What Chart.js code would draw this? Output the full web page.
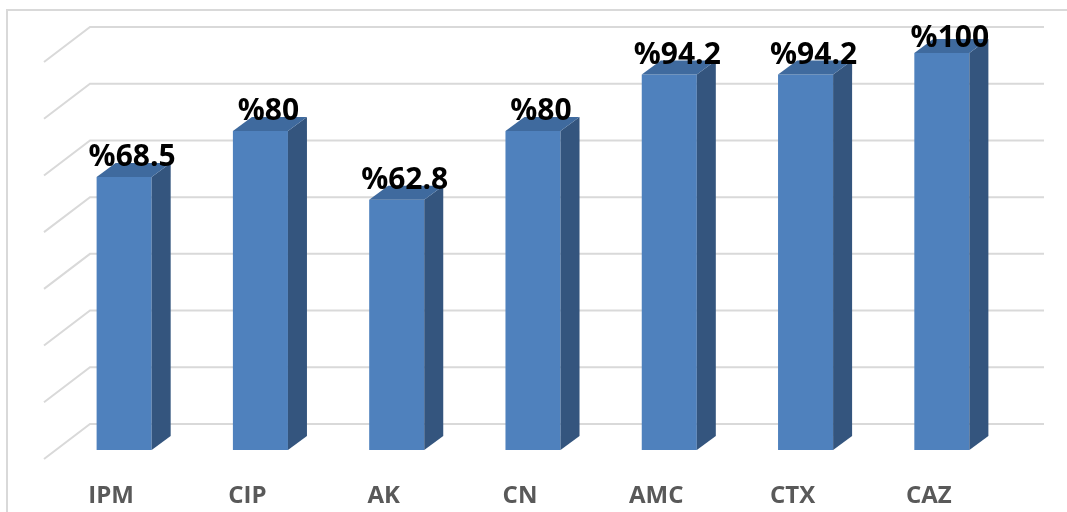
<!DOCTYPE html>
<html>
<head>
<meta charset="utf-8">
<script src="https://cdn.jsdelivr.net/npm/chart.js@4.4.1/dist/chart.umd.min.js"></script>
<style>
  html, body { margin: 0; padding: 0; background: #fff; }
</style>
</head>
<body>
<canvas id="chart" width="1067" height="512"></canvas>
<script>
// data
const categories = ["IPM", "CIP", "AK", "CN", "AMC", "CTX", "CAZ"];
const resistance = [68.5, 80, 62.8, 80, 94.2, 94.2, 100];
const valueLabels = ["%68.5", "%80", "%62.8", "%80", "%94.2", "%94.2", "%100"];
const axisMax = 99.6;
const gridSteps = 7;

// 3d look: offsets of the back wall and of the bar depth
const wallDX = 34, wallDY = -26;
const floorDX = -46, floorDY = 35;
const depthDX = 19, depthDY = -14;

const box3d = {
    id: "box3d",
    beforeDraw(chart) {
        const ctx = chart.ctx;
        ctx.save();
        ctx.strokeStyle = "#D9D9D9";
        ctx.lineWidth = 2;
        ctx.strokeRect(7, 10, 1070, 520);
        ctx.restore();
    },
    beforeDatasetsDraw(chart) {
        const ctx = chart.ctx;
        const area = chart.chartArea;
        const y = chart.scales.y;
        ctx.save();
        ctx.strokeStyle = "#D9D9D9";
        ctx.lineWidth = 2;
        for (let i = 0; i <= gridSteps; i++) {
            const py = y.getPixelForValue(axisMax * i / gridSteps) + wallDY;
            const bx = area.left + wallDX;
            ctx.beginPath();
            ctx.moveTo(bx + floorDX, py + floorDY);
            ctx.lineTo(bx, py);
            ctx.lineTo(area.right + wallDX, py);
            ctx.stroke();
        }
        ctx.restore();
    },
    afterDatasetsDraw(chart) {
        const ctx = chart.ctx;
        const area = chart.chartArea;
        const meta = chart.getDatasetMeta(0);
        ctx.save();
        meta.data.forEach((bar, i) => {
            const p = bar.getProps(["x", "y", "base", "width"], true);
            const left = p.x - p.width / 2, right = p.x + p.width / 2;
            const top = Math.max(p.y, area.top), bottom = p.base;
            // side face
            ctx.fillStyle = "#34557E";
            ctx.beginPath();
            ctx.moveTo(right, top);
            ctx.lineTo(right + depthDX, top + depthDY);
            ctx.lineTo(right + depthDX, bottom + depthDY);
            ctx.lineTo(right, bottom);
            ctx.closePath();
            ctx.fill();
            // top face
            ctx.fillStyle = "#3F6A9E";
            ctx.beginPath();
            ctx.moveTo(left, top);
            ctx.lineTo(left + depthDX, top + depthDY);
            ctx.lineTo(right + depthDX, top + depthDY);
            ctx.lineTo(right, top);
            ctx.closePath();
            ctx.fill();
            // value label
            ctx.fillStyle = "#000";
            ctx.font = "bold 30px 'Open Sans'";
            ctx.textAlign = "center";
            ctx.textBaseline = "alphabetic";
            const ly = Math.max(top - 11, area.top - 6);
            ctx.fillText(valueLabels[i], p.x + 8, ly);
        });
        ctx.restore();
    }
};

new Chart(document.getElementById("chart"), {
    type: "bar",
    data: {
        labels: categories,
        datasets: [{
            data: resistance,
            backgroundColor: "#4F81BD",
            borderWidth: 0,
            barPercentage: 0.404,
            categoryPercentage: 1
        }]
    },
    options: {
        responsive: false,
        animation: false,
        layout: { padding: { left: 56, right: 57, top: 53, bottom: 2 } },
        plugins: { legend: { display: false }, tooltip: { enabled: false } },
        scales: {
            x: {
                grid: { display: false, drawTicks: false },
                border: { display: false },
                ticks: {
                    padding: 32,
                    labelOffset: -13,
                    color: "#595959",
                    font: { family: "'Open Sans'", size: 24, weight: "bold" }
                },
                afterFit(scale) { scale.height = 60; }
            },
            y: {
                display: false,
                min: 0,
                max: axisMax
            }
        }
    },
    plugins: [box3d]
});
</script>
</body>
</html>
